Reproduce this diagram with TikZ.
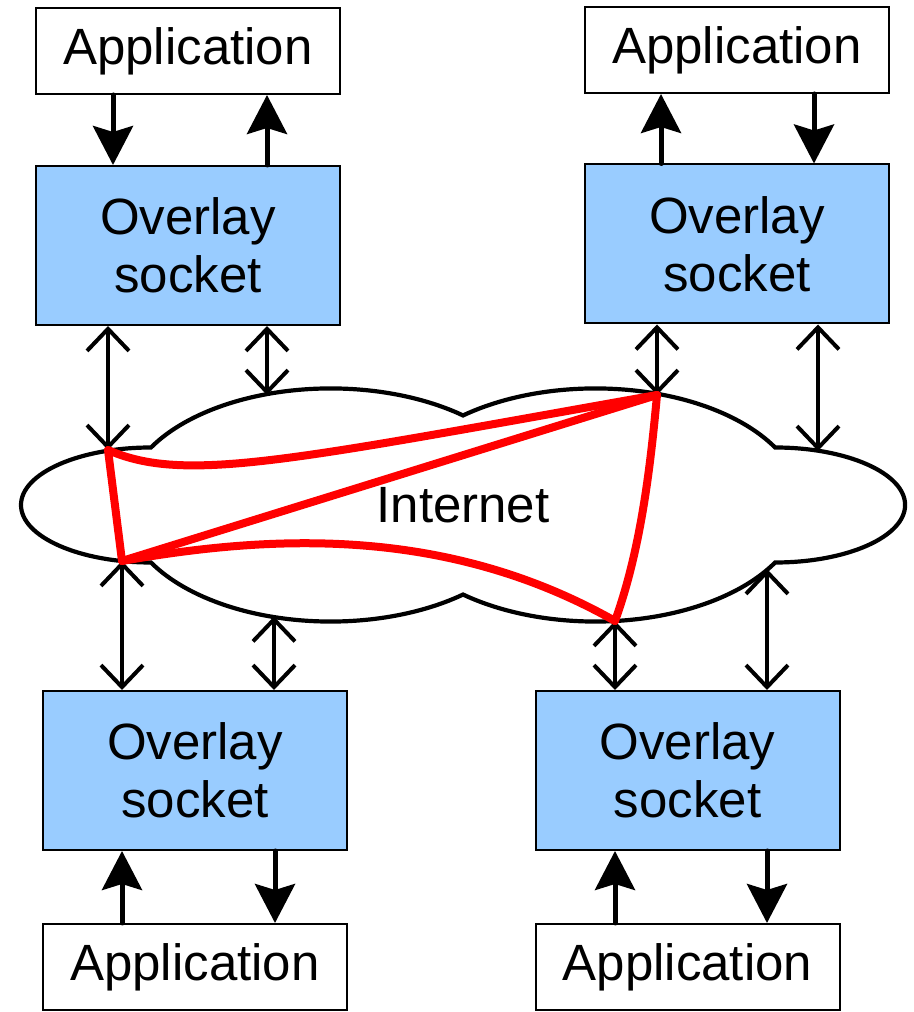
\documentclass[tikz,border=0pt]{standalone}
\usepackage{fontspec}
\setmainfont{Liberation Sans}
\usetikzlibrary{arrows.meta}
\definecolor{sockblue}{RGB}{153,204,255}
\begin{document}
\begin{tikzpicture}[x=1pt,y=1pt,
  box/.style={draw=black, line width=2pt, minimum width=304pt, inner sep=0pt,
    font=\fontsize{51}{58}\selectfont, align=center},
  appbox/.style={box, fill=white, minimum height=86pt},
  sockbox/.style={box, fill=sockblue, minimum height=159pt},
  flow/.style={line width=5pt, line cap=round, -{Stealth[length=39pt,width=40pt,inset=6pt]}},
  link/.style={line width=4pt, line cap=round,
    {Straight Barb[length=22pt,width=42pt]}-{Straight Barb[length=22pt,width=42pt]}},
  overlaylink/.style={red, line width=8pt, line join=round, line cap=round}
]
\useasboundingbox (0,0) rectangle (913,1012);

% the Internet cloud
\draw[line width=4.2pt, fill=white]
  (151,564.5) arc[start angle=90, end angle=270, x radius=130, y radius=57.5]
  arc[start angle=209.4, end angle=309.9, x radius=206.3, y radius=116]
  arc[start angle=230.1, end angle=330.6, x radius=206.3, y radius=116]
  arc[start angle=-90, end angle=90, x radius=130, y radius=57.5]
  arc[start angle=29.4, end angle=129.9, x radius=206.3, y radius=116]
  arc[start angle=50.1, end angle=150.6, x radius=206.3, y radius=116] -- cycle;
\node[font=\fontsize{51}{58}\selectfont] (net) at (463,507) {Internet};

% overlay nodes on the cloud and other attachment points
\coordinate (A) at (108,562);
\coordinate (B) at (122,451);
\coordinate (C) at (657,617);
\coordinate (D) at (615,391);
\coordinate (e1) at (267,617);
\coordinate (e2) at (818,561);
\coordinate (e3) at (274,395.5);
\coordinate (e4) at (767,443);

% boxes
\node[appbox]  (tla) at (188,961)   {Application};
\node[sockbox] (tls) at (188,766.5) {Overlay\\socket};
\node[appbox]  (tra) at (737,962)   {Application};
\node[sockbox] (trs) at (737,768)   {Overlay\\socket};
\node[sockbox] (bls) at (195,241.5) {Overlay\\socket};
\node[appbox]  (bla) at (195,45)    {Application};
\node[sockbox] (brs) at (687.5,241.5) {Overlay\\socket};
\node[appbox]  (bra) at (687.5,45)  {Application};

% columns of the application arrows
\coordinate (xa) at (113,0);
\coordinate (xb) at (267,0);
\coordinate (xc) at (661,0);
\coordinate (xd) at (814,0);
\coordinate (xe) at (122,0);
\coordinate (xf) at (275,0);
\coordinate (xg) at (615,0);
\coordinate (xh) at (767,0);

% application <-> socket
\draw[flow] (tla.south -| xa) -- (tls.north -| xa);
\draw[flow] (tls.north -| xb) -- (tla.south -| xb);
\draw[flow] (trs.north -| xc) -- (tra.south -| xc);
\draw[flow] (tra.south -| xd) -- (trs.north -| xd);
\draw[flow] (bla.north -| xe) -- (bls.south -| xe);
\draw[flow] (bls.south -| xf) -- (bla.north -| xf);
\draw[flow] (bra.north -| xg) -- (brs.south -| xg);
\draw[flow] (brs.south -| xh) -- (bra.north -| xh);

% socket <-> Internet
\draw[link] (tls.south -| A) -- (A);
\draw[link] (tls.south -| e1) -- (e1);
\draw[link] (trs.south -| C) -- (C);
\draw[link] (trs.south -| e2) -- (e2);
\draw[link] (bls.north -| B) -- (B);
\draw[link] (bls.north -| e3) -- (e3);
\draw[link] (brs.north -| D) -- (D);
\draw[link] (brs.north -| e4) -- (e4);

% overlay links
\draw[overlaylink] (A) .. controls (185,528) and (290,552) .. (C);
\draw[overlaylink] (B) -- (C);
\draw[overlaylink] (B) .. controls (260,475) and (440,490) .. (D);
\draw[overlaylink] (A) -- (B);
\draw[overlaylink] (C) .. controls (650,540) and (640,460) .. (D);
\end{tikzpicture}
\end{document}
